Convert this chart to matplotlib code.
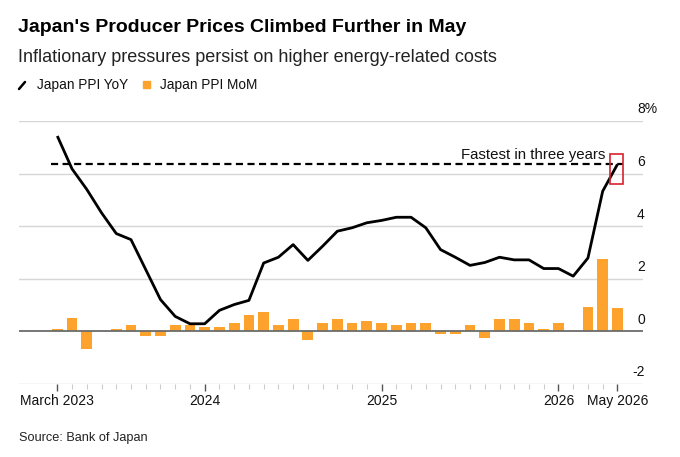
import matplotlib
matplotlib.use("Agg")
import matplotlib.pyplot as plt
from matplotlib.patches import Rectangle
from matplotlib.lines import Line2D
import numpy as np

# ---------------- data ----------------
months = ["2023-03", "2023-04", "2023-05", "2023-06", "2023-07", "2023-08", "2023-09",
          "2023-10", "2023-11", "2023-12", "2024-01", "2024-02", "2024-03", "2024-04",
          "2024-05", "2024-06", "2024-07", "2024-08", "2024-09", "2024-10", "2024-11",
          "2024-12", "2025-01", "2025-02", "2025-03", "2025-04", "2025-05", "2025-06",
          "2025-07", "2025-08", "2025-09", "2025-10", "2025-11", "2025-12", "2026-01",
          "2026-02", "2026-03", "2026-04", "2026-05"]
ppi_yoy = [7.43, 6.18, 5.40, 4.51, 3.72, 3.49, 2.35, 1.21, 0.57, 0.29,
           0.29, 0.80, 1.02, 1.18, 2.60, 2.82, 3.30, 2.70, 3.24, 3.81,
           3.94, 4.13, 4.22, 4.34, 4.34, 3.94, 3.11, 2.82, 2.51, 2.62,
           2.82, 2.72, 2.72, 2.39, 2.39, 2.10, 2.79, 5.33, 6.35]
ppi_mom = [0.09, 0.50, -0.67, 0.00, 0.09, 0.24, -0.18, -0.18, 0.24, 0.24,
           0.15, 0.15, 0.32, 0.63, 0.74, 0.23, 0.47, -0.32, 0.32, 0.47,
           0.32, 0.41, 0.32, 0.23, 0.32, 0.32, -0.09, -0.09, 0.23, -0.25,
           0.47, 0.47, 0.32, 0.09, 0.32, 0.00, 0.93, 2.75, 0.89]
x_tick_months = ["2023-03", "2024-01", "2025-01", "2026-01", "2026-05"]
x_tick_labels = ["March 2023", "2024", "2025", "2026", "May 2026"]
y_ticks = [8, 6, 4, 2, 0, -2]
y_tick_labels = ["8%", "6", "4", "2", "0", "-2"]
title = "Japan's Producer Prices Climbed Further in May"
subtitle = "Inflationary pressures persist on higher energy-related costs"
legend_labels = ["Japan PPI YoY", "Japan PPI MoM"]
annotation = "Fastest in three years"
source = "Source: Bank of Japan"

# ---------------- style ----------------
FONT = ["Liberation Sans", "DejaVu Sans"]
plt.rcParams["font.family"] = FONT
ORANGE = "#fda22c"
GRID = "#d6d6d6"
W, H = 680, 457
DPI = 100

fig = plt.figure(figsize=(W / DPI, H / DPI), dpi=DPI)
fig.patch.set_facecolor("white")

# axes placement in pixels
ax_left, ax_right, ax_top, ax_bottom = 19.3, 643.0, 121.0, 384.0
ax = fig.add_axes([ax_left / W, 1 - ax_bottom / H,
                   (ax_right - ax_left) / W, (ax_bottom - ax_top) / H])
ax.set_facecolor("none")

x = np.arange(len(months))
px_per_month = 14.74
x0_px = 57.3
ax.set_xlim((ax_left - x0_px) / px_per_month, (ax_right - x0_px) / px_per_month)
ax.set_ylim(-2, 8)

for s in ax.spines.values():
    s.set_visible(False)

# gridlines
for v in y_ticks:
    if v == 0:
        continue
    ax.axhline(v, color=GRID, lw=1.0, zorder=1)

# bars
ax.bar(x, ppi_mom, width=0.73, color=ORANGE, zorder=2)
# zero line
ax.axhline(0, color="#6b6b6b", lw=1.3, zorder=3)

# dashed reference line (peak level)
fastest = ppi_yoy[-1]
ax.plot([-0.45, x[-1] + 0.35], [fastest, fastest], color="black", lw=1.6,
        dashes=(3.2, 2.0), zorder=4, solid_capstyle="butt")

# yoy line
ax.plot(x, ppi_yoy, color="black", lw=2.0, zorder=5, solid_joinstyle="round",
        solid_capstyle="butt")

# red highlight box around the latest point
ax.add_patch(Rectangle((x[-1] - 0.48, ppi_yoy[-1] - 0.75), 0.83, 1.14,
                       fill=False, edgecolor="#d8222c", lw=1.2, zorder=6))

ax.text(x[-1] - 0.85, fastest + 0.1, annotation, ha="right", va="bottom",
        fontsize=10.8, color="#111111", zorder=7)

# x ticks
major_idx = [months.index(m) for m in x_tick_months]
ax.set_xticks(major_idx)
ax.set_xticklabels(x_tick_labels, fontsize=10, color="#111111")
ax.set_xticks(x, minor=True)
ax.tick_params(axis="x", which="major", length=5, width=1.0, color="#555555",
               pad=2.5, direction="out")
ax.tick_params(axis="x", which="minor", length=3.5, width=0.8, color="#cccccc",
               direction="out")
ax.set_yticks([])

# y tick labels above gridlines, on the right
for v, lab in zip(y_ticks, y_tick_labels):
    xpx = 637 if v >= 0 else 632
    fig.text(xpx / W, 1 - (ax_bottom - (v + 2) * (ax_bottom - ax_top) / 10 - 11.5) / H,
             lab, ha="left", va="center", fontsize=10, color="#111111")

# titles
fig.text(18 / W, 1 - 28 / H, title, ha="left", va="center", fontsize=14.0,
         fontweight="bold", color="#000000")
fig.text(18 / W, 1 - 57 / H, subtitle, ha="left", va="center", fontsize=13.0,
         color="#222222")

# legend
fig.add_artist(Line2D([19 / W, 25 / W], [1 - 89 / H, 1 - 82 / H], color="black",
                      lw=1.8, solid_capstyle="round"))
fig.text(37 / W, 1 - 84.5 / H, legend_labels[0], ha="left", va="center",
         fontsize=9.8, color="#111111")
fig.add_artist(Rectangle((143 / W, 1 - 88 / H), 7 / W, 7 / H, color=ORANGE,
                         transform=fig.transFigure))
fig.text(160 / W, 1 - 84.5 / H, legend_labels[1], ha="left", va="center",
         fontsize=9.8, color="#111111")

# source
fig.text(19 / W, 1 - 438 / H, source, ha="left", va="center", fontsize=9.15,
         color="#222222")

fig.savefig("out.png", dpi=DPI, facecolor="white")
